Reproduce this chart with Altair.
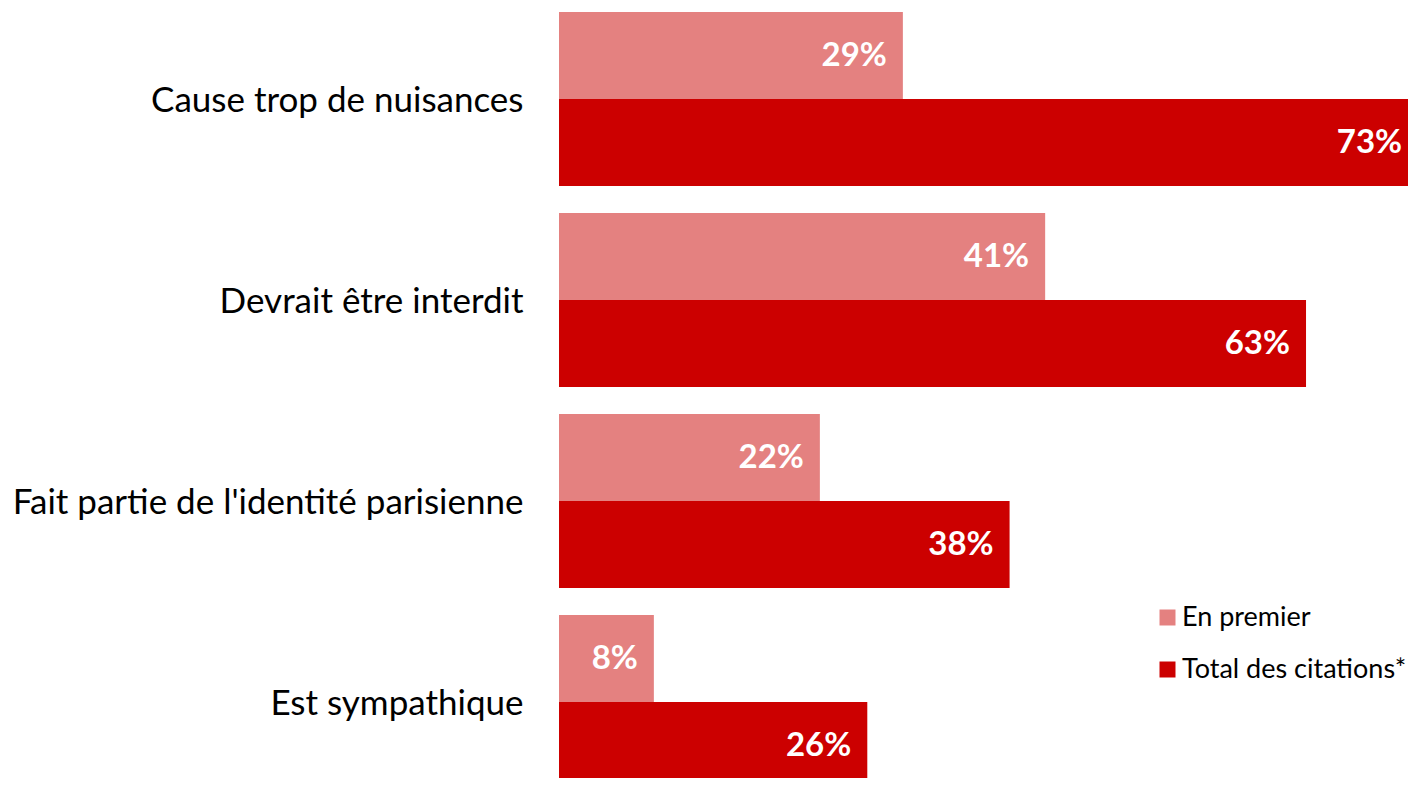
import altair as alt
import pandas as pd

categories = ["Cause trop de nuisances", "Devrait être interdit",
              "Fait partie de l'identité parisienne", "Est sympathique"]
series = ["En premier", "Total des citations*"]
en_premier = [29, 41, 22, 8]
total_citations = [73, 63, 38, 26]
colors = ["#E48180", "#CC0000"]

XMAX = 71.6  # visible end of the value axis (the longest bar runs past the edge)

rows = []
for c, a, b in zip(categories, en_premier, total_citations):
    rows.append({"cat": c, "serie": series[0], "val": a, "lab": f"{a}%"})
    rows.append({"cat": c, "serie": series[1], "val": b, "lab": f"{b}%"})
df = pd.DataFrame(rows)

FONT = "Lato"

y = alt.Y("cat:N", sort=categories,
          scale=alt.Scale(paddingInner=27/201, paddingOuter=0, range=[0, 777]),
          axis=alt.Axis(title=None, domain=False, ticks=False, labelPadding=36,
                        labelFontSize=35, labelFont=FONT, labelColor="#000000",
                        labelLimit=0, labelOffset=2))
yoff = alt.YOffset("serie:N", sort=series,
                   scale=alt.Scale(paddingInner=0, paddingOuter=0))
xscale = alt.Scale(domain=[0, XMAX])

bars = alt.Chart(df).mark_bar(clip=True).encode(
    x=alt.X("val:Q", scale=xscale, axis=None), y=y, yOffset=yoff,
    color=alt.Color("serie:N", sort=series,
                    scale=alt.Scale(domain=series, range=colors),
                    legend=alt.Legend(title=None, orient="none", legendX=595, legendY=592,
                                      symbolType="square", symbolSize=256,
                                      symbolStrokeWidth=0, labelFont=FONT,
                                      labelFontSize=27, labelColor="#000000",
                                      labelOffset=1, rowPadding=24, labelLimit=0)),
)

text = alt.Chart(df).transform_calculate(
    tx=f"min(datum.val, {XMAX + 0.85})"
).mark_text(align="right", baseline="middle", dx=-16,
            color="white", font=FONT, fontWeight="bold",
            fontSize=33).encode(
    x=alt.X("tx:Q", scale=xscale, axis=None), y=y, yOffset=yoff, text="lab:N")

chart = (bars + text).properties(
    width=849, height=766,
    autosize=alt.AutoSizeParams(type="none"),
    padding={"left": 551, "top": 4, "right": 0, "bottom": 0},
).configure_view(stroke=None)

chart.save("out.html", embed_options={"renderer": "svg", "actions": False})
